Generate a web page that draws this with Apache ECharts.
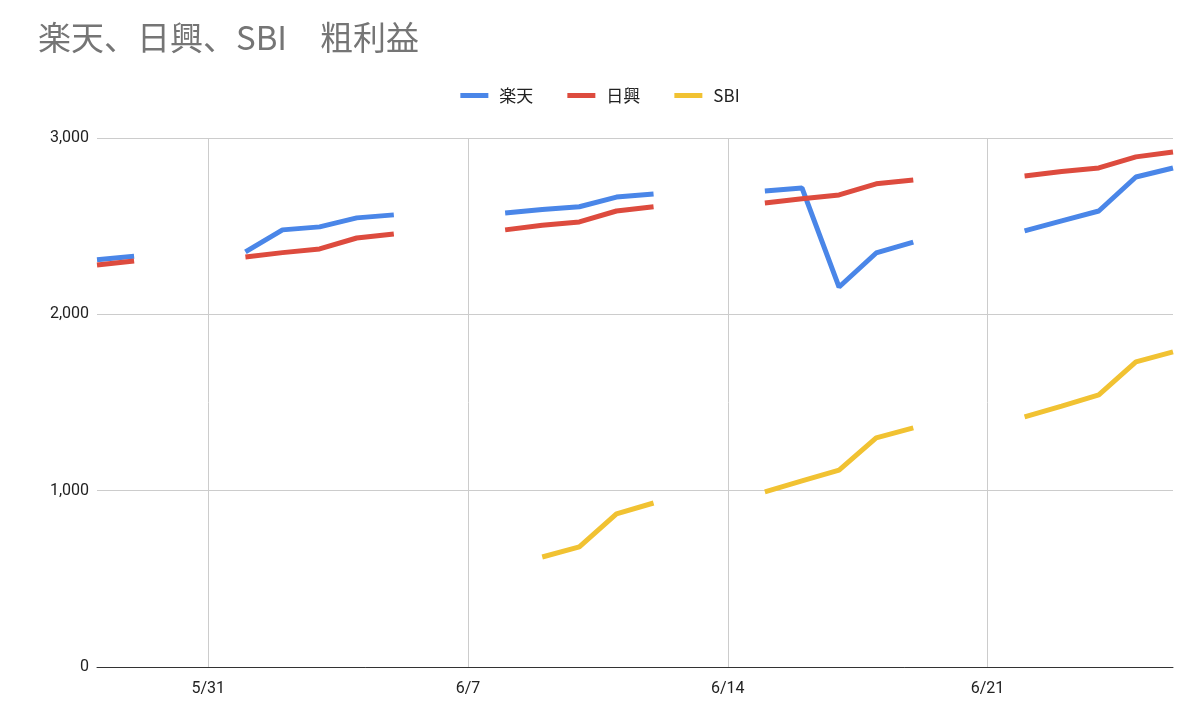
<!DOCTYPE html>
<html><head><meta charset="utf-8">
<script src="https://cdn.jsdelivr.net/npm/echarts@6/dist/echarts.min.js"></script>
<style>html,body{margin:0;padding:0;background:#fff}#c{width:1200px;height:717px}</style>
</head><body><div id="c"></div>
<script>
const dates = ['5/28','5/29','5/30','5/31','6/1','6/2','6/3','6/4','6/5','6/6','6/7','6/8','6/9','6/10','6/11','6/12','6/13','6/14','6/15','6/16','6/17','6/18','6/19','6/20','6/21','6/22','6/23','6/24','6/25','6/26'];
const tickLabels = ['5/31','6/7','6/14','6/21'];
const rakuten = [2310,2330,null,null,2354,2479,2496,2547,2564,null,null,2575,2595,2610,2665,2683,null,null,2700,2717,2155,2348,2410,null,null,2473,2530,2586,2779,2830];
const nikko = [2280,2303,null,null,2325,2350,2371,2433,2456,null,null,2479,2505,2524,2586,2610,null,null,2632,2655,2677,2740,2762,null,null,2785,2810,2830,2893,2921];
const sbi = [null,null,null,null,null,null,null,null,null,null,null,null,624,681,868,930,null,null,993,1055,1117,1299,1356,null,null,1418,1480,1543,1730,1787];
const show = (i) => tickLabels.includes(dates[i]);
const ser = (name, data, color) => ({name, type:'line', data, showSymbol:false, symbol:'none', connectNulls:false, lineStyle:{width:5,color}, itemStyle:{color}});
const chart = echarts.init(document.getElementById('c'));
chart.setOption({
  animation:false,
  title:{text:'楽天、日興、SBI　粗利益', left:33, top:16, textStyle:{fontSize:33, fontWeight:'normal', color:'#757575', fontFamily:'Noto Sans CJK JP'}},
  legend:{top:82, left:'center', itemWidth:28, itemHeight:5, itemGap:34, icon:'rect', textStyle:{fontSize:17, color:'#222', padding:[0,0,0,6], fontFamily:'Noto Sans CJK JP'}},
  grid:{left:97, right:27, top:138, bottom:50},
  xAxis:{type:'category', data:dates, boundaryGap:false,
    axisLine:{lineStyle:{color:'#333'}}, axisTick:{show:false},
    axisLabel:{interval:(i)=>show(i), fontSize:16, color:'#222', margin:14, fontFamily:'Roboto'},
    splitLine:{show:true, interval:(i)=>show(i), lineStyle:{color:'#ccc'}}},
  yAxis:{type:'value', min:0, max:3000, interval:1000,
    axisLabel:{fontSize:16, color:'#222', fontFamily:'Roboto', formatter:(v)=>v.toLocaleString('en-US')},
    axisLine:{show:false}, splitLine:{lineStyle:{color:'#ccc'}}},
  series:[ser('楽天',rakuten,'#4a86e8'), ser('日興',nikko,'#dd4b3e'), ser('SBI',sbi,'#f1c232')]
});
</script></body></html>
